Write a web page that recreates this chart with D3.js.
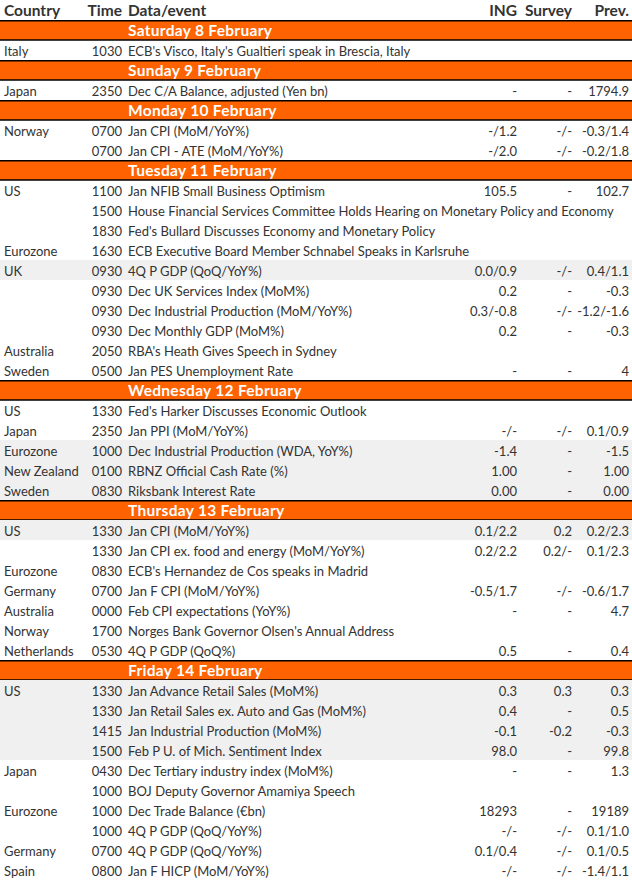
<!DOCTYPE html>
<html>
<head>
<meta charset="utf-8">
<script src="https://cdn.jsdelivr.net/npm/d3@7"></script>
<style>
  body { margin: 0; background: #fff; }
  svg text { font-family: Lato, "Noto Sans", sans-serif; }
</style>
</head>
<body>
<script>
// Column headings
var headings = ["Country", "Time", "Data/event", "ING", "Survey", "Prev."];

// Day labels (orange bars)
var dayLabels = ["Saturday 8 February", "Sunday 9 February", "Monday 10 February",
  "Tuesday 11 February", "Wednesday 12 February", "Thursday 13 February", "Friday 14 February"];

// One entry per event row
var rowDay = [0, 1, 2, 2, 3, 3, 3, 3, 3, 3, 3, 3, 3, 3, 4, 4, 4, 4, 4,
  5, 5, 5, 5, 5, 5, 5, 6, 6, 6, 6, 6, 6, 6, 6, 6, 6];
var countries = ["Italy", "Japan", "Norway", "", "US", "", "", "Eurozone", "UK", "", "", "", "Australia", "Sweden",
  "US", "Japan", "Eurozone", "New Zealand", "Sweden",
  "US", "", "Eurozone", "Germany", "Australia", "Norway", "Netherlands",
  "US", "", "", "", "Japan", "", "Eurozone", "", "Germany", "Spain"];
var times = ["1030", "2350", "0700", "0700", "1100", "1500", "1830", "1630", "0930", "0930", "0930", "0930", "2050", "0500",
  "1330", "2350", "1000", "0100", "0830",
  "1330", "1330", "0830", "0700", "0000", "1700", "0530",
  "1330", "1330", "1415", "1500", "0430", "1000", "1000", "1000", "0700", "0800"];
var events = [
  "ECB's Visco, Italy's Gualtieri speak in Brescia, Italy",
  "Dec C/A Balance, adjusted (Yen bn)",
  "Jan CPI (MoM/YoY%)",
  "Jan CPI - ATE (MoM/YoY%)",
  "Jan NFIB Small Business Optimism",
  "House Financial Services Committee Holds Hearing on Monetary Policy and Economy",
  "Fed's Bullard Discusses Economy and Monetary Policy",
  "ECB Executive Board Member Schnabel Speaks in Karlsruhe",
  "4Q P GDP (QoQ/YoY%)",
  "Dec UK Services Index (MoM%)",
  "Dec Industrial Production (MoM/YoY%)",
  "Dec Monthly GDP (MoM%)",
  "RBA's Heath Gives Speech in Sydney",
  "Jan PES Unemployment Rate",
  "Fed's Harker Discusses Economic Outlook",
  "Jan PPI (MoM/YoY%)",
  "Dec Industrial Production (WDA, YoY%)",
  "RBNZ Official Cash Rate (%)",
  "Riksbank Interest Rate",
  "Jan CPI (MoM/YoY%)",
  "Jan CPI ex. food and energy (MoM/YoY%)",
  "ECB's Hernandez de Cos speaks in Madrid",
  "Jan F CPI (MoM/YoY%)",
  "Feb CPI expectations (YoY%)",
  "Norges Bank Governor Olsen's Annual Address",
  "4Q P GDP (QoQ%)",
  "Jan Advance Retail Sales (MoM%)",
  "Jan Retail Sales ex. Auto and Gas (MoM%)",
  "Jan Industrial Production (MoM%)",
  "Feb P U. of Mich. Sentiment Index",
  "Dec Tertiary industry index (MoM%)",
  "BOJ Deputy Governor Amamiya Speech",
  "Dec Trade Balance (€bn)",
  "4Q P GDP (QoQ/YoY%)",
  "4Q P GDP (QoQ/YoY%)",
  "Jan F HICP (MoM/YoY%)"
];
var ingValues = ["", "-", "-/1.2", "-/2.0", "105.5", "", "", "", "0.0/0.9", "0.2", "0.3/-0.8", "0.2", "", "-",
  "", "-/-", "-1.4", "1.00", "0.00",
  "0.1/2.2", "0.2/2.2", "", "-0.5/1.7", "-", "", "0.5",
  "0.3", "0.4", "-0.1", "98.0", "-", "", "18293", "-/-", "0.1/0.4", "-/-"];
var surveyValues = ["", "-", "-/-", "-/-", "-", "", "", "", "-/-", "-", "-/-", "-", "", "-",
  "", "-/-", "-", "-", "-",
  "0.2", "0.2/-", "", "-/-", "-", "", "-",
  "0.3", "-", "-0.2", "-", "-", "", "-", "-/-", "-/-", "-/-"];
var prevValues = ["", "1794.9", "-0.3/1.4", "-0.2/1.8", "102.7", "", "", "", "0.4/1.1", "-0.3", "-1.2/-1.6", "-0.3", "", "4",
  "", "0.1/0.9", "-1.5", "1.00", "0.00",
  "0.2/2.3", "0.1/2.3", "", "-0.6/1.7", "4.7", "", "0.4",
  "0.3", "0.5", "-0.3", "99.8", "1.3", "", "19189", "0.1/1.0", "0.1/0.5", "-1.4/1.1"];
var highlighted = [0, 0, 0, 0, 0, 0, 0, 0, 1, 0, 0, 0, 0, 0,
  0, 0, 1, 1, 1,
  1, 0, 0, 0, 0, 0, 0,
  1, 1, 1, 1, 0, 0, 0, 0, 0, 0];

var width = 632, height = 881;
var orange = "#ff6200", textColor = "#333333", shade = "#f0f0f0";

// flatten into display rows: header, then a bar per day followed by its events
var rows = [{ type: "header" }];
dayLabels.forEach(function (label, d) {
  rows.push({ type: "day", label: label });
  rowDay.forEach(function (day, i) {
    if (day === d) rows.push({ type: "event", i: i });
  });
});

var svg = d3.select("body").append("svg")
  .attr("width", width)
  .attr("height", height);

var y = d3.scaleBand()
  .domain(d3.range(rows.length))
  .range([0, rows.length * 20]);

// column positions: [x, anchor]
var cols = [[4, "start"], [122, "end"], [128, "start"], [517, "end"], [572, "end"], [629, "end"]];

var rowG = svg.selectAll(".row")
  .data(rows)
  .enter()
  .append("g")
  .attr("class", "row")
  .attr("transform", function (d, i) { return "translate(0," + y(i) + ")"; });

// grey shading for highlighted events
rowG.filter(function (d) { return d.type === "event" && highlighted[d.i]; })
  .append("rect")
  .attr("width", width)
  .attr("height", y.bandwidth())
  .attr("fill", shade);

// orange day bars with black rules
var dayG = rowG.filter(function (d) { return d.type === "day"; });
dayG.append("rect")
  .attr("width", width)
  .attr("height", y.bandwidth())
  .attr("fill", orange);
dayG.append("line")
  .attr("x1", 0).attr("x2", width)
  .attr("y1", 0.75).attr("y2", 0.75)
  .attr("stroke", "#000").attr("stroke-width", 1.6);
dayG.append("line")
  .attr("x1", 0).attr("x2", width)
  .attr("y1", y.bandwidth()).attr("y2", y.bandwidth())
  .attr("stroke", "#000").attr("stroke-width", 1.5);
dayG.append("text")
  .attr("x", cols[2][0])
  .attr("y", 16)
  .attr("fill", "#fff")
  .style("font-size", "15.5px")
  .style("font-weight", "bold")
  .style("letter-spacing", "0.3px")
  .text(function (d) { return d.label; });

// header
rowG.filter(function (d) { return d.type === "header"; })
  .selectAll("text")
  .data(headings)
  .enter()
  .append("text")
  .attr("x", function (d, k) { return cols[k][0]; })
  .attr("y", 16)
  .attr("text-anchor", function (d, k) { return cols[k][1]; })
  .attr("fill", textColor)
  .style("font-size", "15.5px")
  .style("font-weight", "bold")
  .text(function (d) { return d; });

// event cells
rowG.filter(function (d) { return d.type === "event"; })
  .selectAll("text")
  .data(function (d) {
    var i = d.i;
    return [countries[i], times[i], events[i], ingValues[i], surveyValues[i], prevValues[i]];
  })
  .enter()
  .append("text")
  .attr("x", function (d, k) { return cols[k][0]; })
  .attr("y", 15.5)
  .attr("text-anchor", function (d, k) { return cols[k][1]; })
  .attr("fill", textColor)
  .style("font-size", "13px")
  .text(function (d) { return d; });
</script>
</body>
</html>
